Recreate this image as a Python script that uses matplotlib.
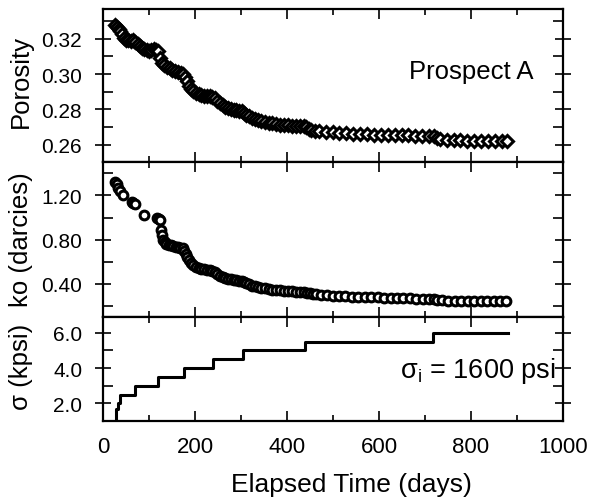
import matplotlib
matplotlib.use("Agg")
import matplotlib.pyplot as plt
from matplotlib.ticker import MultipleLocator, FormatStrFormatter

plt.rcParams['font.family'] = ['Liberation Sans', 'DejaVu Sans']
plt.rcParams['mathtext.fontset'] = 'custom'
plt.rcParams['mathtext.rm'] = 'Liberation Sans'
plt.rcParams['mathtext.it'] = 'Liberation Sans:italic'

# Porosity history (days, fraction)
por_days = [26, 30, 34, 38, 42, 46, 50, 55, 60, 65, 70, 75, 80, 85, 90, 95, 100,
            105, 110, 115, 120, 124, 128, 133, 139, 145, 151, 157, 163, 169, 174,
            178, 182, 186, 191, 196, 202, 208, 214, 220, 226, 232, 238, 243, 248,
            254, 260, 266, 272, 278, 284, 290, 296, 302, 306, 311, 317, 323, 330,
            337, 344, 352, 360, 368, 376, 384, 393, 402, 411, 420, 429, 437, 442,
            447, 453, 461, 470, 484, 499, 514, 529, 544, 559, 574, 589, 604, 619,
            634, 649, 664, 679, 694, 709, 720, 726, 733, 747, 762, 777, 792, 807,
            822, 837, 852, 867, 878]
porosity = [0.3275, 0.3268, 0.3255, 0.3245, 0.3228, 0.3205, 0.3195, 0.3192,
            0.3188, 0.3190, 0.3182, 0.3172, 0.3160, 0.3148, 0.3140, 0.3135,
            0.3132, 0.3138, 0.3140, 0.3138, 0.3128, 0.3090, 0.3065, 0.3050,
            0.3040, 0.3032, 0.3025, 0.3018, 0.3012, 0.3005, 0.3000, 0.2985,
            0.2960, 0.2935, 0.2915, 0.2902, 0.2893, 0.2885, 0.2880, 0.2878,
            0.2876, 0.2874, 0.2872, 0.2865, 0.2850, 0.2835, 0.2822, 0.2812,
            0.2805, 0.2800, 0.2797, 0.2795, 0.2793, 0.2790, 0.2782, 0.2770,
            0.2760, 0.2752, 0.2745, 0.2738, 0.2732, 0.2727, 0.2723, 0.2720,
            0.2717, 0.2714, 0.2711, 0.2709, 0.2708, 0.2707, 0.2706, 0.2705,
            0.2698, 0.2690, 0.2683, 0.2679, 0.2676, 0.2672, 0.2669, 0.2666,
            0.2664, 0.2662, 0.2660, 0.2658, 0.2657, 0.2656, 0.2655, 0.2654,
            0.2653, 0.2652, 0.2651, 0.2650, 0.2650, 0.2648, 0.2640, 0.2632,
            0.2627, 0.2626, 0.2624, 0.2622, 0.2621, 0.2620, 0.2620, 0.2619,
            0.2619, 0.2618]

# Permeability history (days, darcies)
perm_days = [26, 30, 33, 37, 43, 62, 66, 69, 89, 118, 121, 124, 126, 128, 131,
             134, 138, 143, 148, 153, 158, 163, 168, 173, 177, 180, 183, 187, 191,
             196, 202, 208, 214, 220, 226, 232, 238, 243, 248, 254, 260, 266, 272,
             278, 284, 290, 296, 302, 306, 311, 317, 323, 330, 337, 344, 352, 360,
             368, 376, 384, 393, 402, 411, 420, 429, 437, 443, 449, 456, 464, 474,
             486, 499, 513, 527, 541, 555, 569, 583, 597, 611, 625, 639, 653, 667,
             681, 695, 709, 719, 727, 737, 751, 765, 779, 793, 807, 821, 835, 849,
             863, 877]
perm = [1.32, 1.30, 1.27, 1.24, 1.20, 1.145, 1.135, 1.125, 1.025, 1.00, 0.99,
        0.98, 0.89, 0.84, 0.80, 0.78, 0.765, 0.755, 0.748, 0.742, 0.737, 0.732,
        0.727, 0.722, 0.70, 0.67, 0.64, 0.615, 0.59, 0.57, 0.555, 0.545, 0.538,
        0.532, 0.527, 0.523, 0.52, 0.505, 0.49, 0.475, 0.463, 0.453, 0.445,
        0.44, 0.435, 0.432, 0.43, 0.428, 0.42, 0.405, 0.395, 0.385, 0.377,
        0.37, 0.364, 0.358, 0.352, 0.347, 0.343, 0.34, 0.337, 0.334, 0.332,
        0.330, 0.329, 0.328, 0.32, 0.313, 0.308, 0.304, 0.30, 0.296, 0.292,
        0.289, 0.287, 0.285, 0.283, 0.281, 0.279, 0.277, 0.275, 0.273, 0.271,
        0.27, 0.268, 0.266, 0.264, 0.262, 0.26, 0.255, 0.25, 0.248, 0.246,
        0.245, 0.244, 0.243, 0.243, 0.242, 0.242, 0.242, 0.242]

# Applied stress schedule (days, kpsi)
stress_days = [28, 28, 33, 38, 70, 120, 176, 240, 305, 439, 717, 880]
stress_kpsi = [1.0, 1.7, 2.0, 2.5, 3.0, 3.5, 4.0, 4.5, 5.0, 5.5, 6.0, 6.0]

W, H = 595, 502
fig = plt.figure(figsize=(W / 100, H / 100), dpi=100)

left, right = 103 / W, 563 / W
edges = [9.7, 163.3, 318.0, 422.0]
axes = []
for i in range(3):
    top_px, bot_px = edges[i], edges[i + 1]
    ax = fig.add_axes([left, 1 - bot_px / H, right - left, (bot_px - top_px) / H])
    axes.append(ax)
ax1, ax2, ax3 = axes

ax1.plot(por_days, porosity, linestyle='none', marker='D', markersize=6,
         markerfacecolor='white', markeredgecolor='black', markeredgewidth=2.2)
ax1.set_ylim(0.25, 0.337)
ax1.yaxis.set_major_locator(MultipleLocator(0.02))
ax1.yaxis.set_minor_locator(MultipleLocator(0.01))
ax1.yaxis.set_major_formatter(FormatStrFormatter('%.2f'))

ax2.plot(perm_days, perm, linestyle='none', marker='o', markersize=6.3,
         markerfacecolor='white', markeredgecolor='black', markeredgewidth=2.2)
ax2.set_ylim(0.1, 1.5)
ax2.set_yticks([0.4, 0.8, 1.2])
ax2.yaxis.set_minor_locator(MultipleLocator(0.2))
ax2.yaxis.set_major_formatter(FormatStrFormatter('%.2f'))

ax3.step(stress_days, stress_kpsi, where='post', color='black', linewidth=2.2)
ax3.set_ylim(1.0, 6.9)
ax3.set_yticks([2.0, 4.0, 6.0])
ax3.yaxis.set_minor_locator(MultipleLocator(1.0))
ax3.yaxis.set_major_formatter(FormatStrFormatter('%.1f'))

for ax in axes:
    ax.set_xlim(0, 1000)
    ax.xaxis.set_major_locator(MultipleLocator(200))
    ax.xaxis.set_minor_locator(MultipleLocator(100))
    for s in ax.spines.values():
        s.set_linewidth(1.6)
    ax.tick_params(axis='both', which='major', direction='in', length=7,
                   width=1.2, top=True, right=True, pad=9)
    ax.tick_params(axis='both', which='minor', direction='in', length=4,
                   width=1.2, top=True, right=True)
    ax.tick_params(axis='y', which='major', direction='inout', length=12,
                   labelsize=15)
    ax.tick_params(axis='y', which='minor', length=7)
    ax.tick_params(axis='x', labelsize=16)
for ax in (ax1, ax2):
    ax.tick_params(axis='x', labelbottom=False)

ax3.set_xticks([0, 200, 400, 600, 800, 1000])
ax3.tick_params(axis='x', pad=11)

ax1.text(0.80, 0.594, 'Prospect A', transform=ax1.transAxes,
         ha='center', va='center', fontsize=18.5)
ax3.text(0.815, 0.49, 'σ$_\\mathrm{i}$ = 1600 psi', transform=ax3.transAxes,
         ha='center', va='center', fontsize=19.5)

lx = 21 / W
label_centres = [82, 240, 367]
for yc, label in zip(label_centres, ['Porosity', 'ko (darcies)', 'σ (kpsi)']):
    fig.text(lx, 1 - yc / H, label, rotation=90,
             ha='center', va='center', fontsize=18.5)

fig.text(351 / W, 1 - 485 / H, 'Elapsed Time (days)', ha='center',
         va='center', fontsize=19)

fig.savefig('out.png', dpi=100)
